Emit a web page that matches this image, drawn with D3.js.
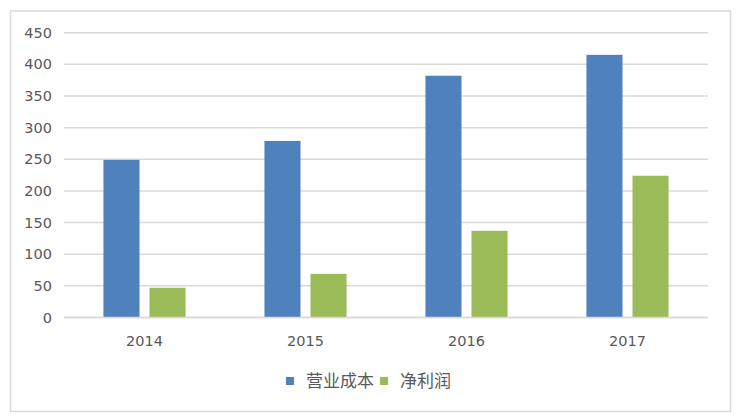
<!DOCTYPE html>
<html>
<head>
<meta charset="utf-8">
<script src="https://cdn.jsdelivr.net/npm/d3@7"></script>
<style>
  body { margin: 0; background: #fff; }
  text { fill: #595959; }
</style>
</head>
<body>
<svg id="chart" width="742" height="417"></svg>
<script>
// chart data
var years = ['2014', '2015', '2016', '2017'];
var seriesNames = ['营业成本', '净利润'];
var costValues = [249, 279, 382, 415];
var profitValues = [47, 69, 137, 224];
var yTicks = [0, 50, 100, 150, 200, 250, 300, 350, 400, 450];
var colors = ['#4f81bd', '#9bbb59'];

var svg = d3.select('#chart');
var margin = { top: 32.7, left: 64, right: 34, bottom: 99.5 };
var width = 742, height = 417;

// outer frame
svg.append('rect')
  .attr('x', 10.5).attr('y', 11)
  .attr('width', 720).attr('height', 400.5)
  .attr('fill', '#fff')
  .attr('stroke', '#d9d9d9')
  .attr('stroke-width', 1.5);

var y = d3.scaleLinear()
  .domain([0, 450])
  .range([height - margin.bottom, margin.top]);

var x0 = d3.scaleBand()
  .domain(years)
  .range([margin.left, width - margin.right])
  .paddingInner(0.49)
  .paddingOuter(0.245);

var x1 = d3.scaleBand()
  .domain(seriesNames)
  .range([0, x0.bandwidth()])
  .paddingInner(0.217);

// gridlines
svg.append('g')
  .selectAll('line')
  .data(yTicks)
  .enter()
  .append('line')
  .attr('x1', margin.left)
  .attr('x2', width - margin.right)
  .attr('y1', function (d) { return y(d); })
  .attr('y2', function (d) { return y(d); })
  .attr('stroke', '#d9d9d9')
  .attr('stroke-width', 1.5);

// y labels
var yAxis = d3.axisLeft(y).tickValues(yTicks).tickSize(0).tickPadding(12);
var yg = svg.append('g')
  .attr('transform', 'translate(' + margin.left + ',0)')
  .call(yAxis);
yg.select('.domain').remove();
yg.selectAll('text')
  .attr('font-family', 'DejaVu Sans, sans-serif')
  .attr('font-size', 14.5)
  .style('fill', '#595959');

// bars
var rows = years.map(function (yr, i) {
  return { year: yr, values: [costValues[i], profitValues[i]] };
});

var groups = svg.append('g')
  .selectAll('g')
  .data(rows)
  .enter()
  .append('g')
  .attr('transform', function (d) { return 'translate(' + x0(d.year) + ',0)'; });

groups.selectAll('rect')
  .data(function (d) {
    return d.values.map(function (v, j) { return { name: seriesNames[j], value: v, idx: j }; });
  })
  .enter()
  .append('rect')
  .attr('x', function (d) { return x1(d.name); })
  .attr('width', x1.bandwidth())
  .attr('y', function (d) { return y(d.value); })
  .attr('height', function (d) { return y(0) - y(d.value); })
  .attr('fill', function (d) { return colors[d.idx]; });

// baseline redraw on top
svg.append('line')
  .attr('x1', margin.left).attr('x2', width - margin.right)
  .attr('y1', y(0)).attr('y2', y(0))
  .attr('stroke', '#d9d9d9').attr('stroke-width', 1.5);

// x labels
var xAxis = d3.axisBottom(x0).tickSize(0).tickPadding(18);
var xg = svg.append('g')
  .attr('transform', 'translate(0,' + y(0) + ')')
  .call(xAxis);
xg.select('.domain').remove();
xg.selectAll('text')
  .attr('font-family', 'DejaVu Sans, sans-serif')
  .attr('font-size', 14.5)
  .style('fill', '#595959');

// legend
var legend = svg.append('g').attr('transform', 'translate(286,377)');
var legendX = [0, 94];
seriesNames.forEach(function (name, i) {
  var g = legend.append('g').attr('transform', 'translate(' + legendX[i] + ',0)');
  g.append('rect')
    .attr('width', 8).attr('height', 8)
    .attr('fill', colors[i]);
  g.append('text')
    .attr('x', 20).attr('y', 4)
    .attr('dy', '0.36em')
    .attr('font-family', 'Noto Sans CJK SC, sans-serif')
    .attr('font-size', 17)
    .text(name);
});
</script>
</body>
</html>
